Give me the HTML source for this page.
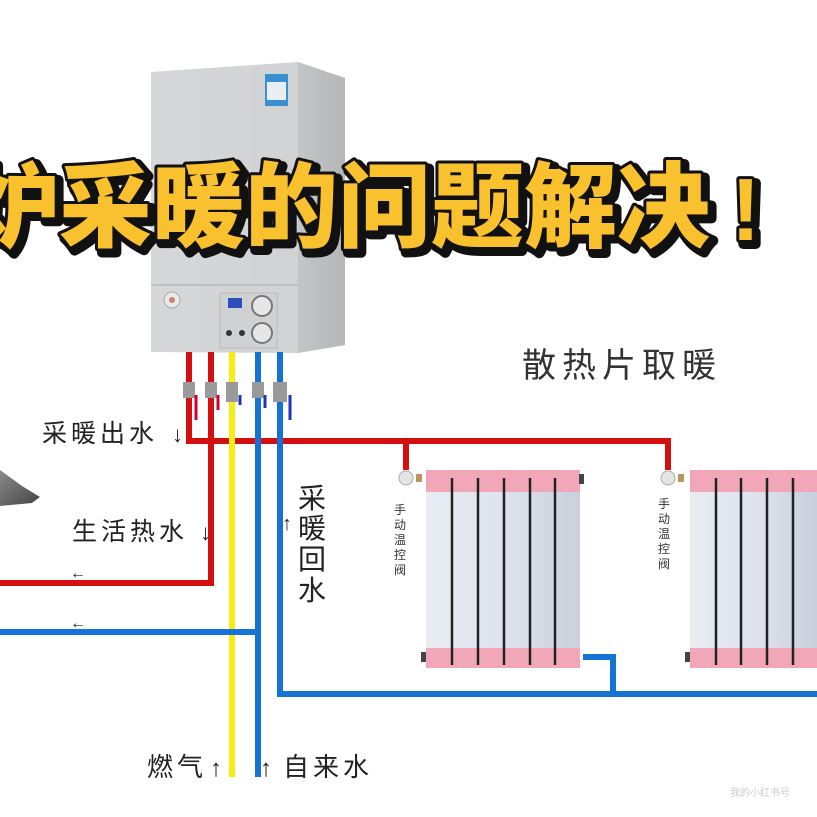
<!DOCTYPE html>
<html><head><meta charset="utf-8"><style>
html,body{margin:0;padding:0;background:#fff;}
svg{display:block;}
</style></head><body>
<svg width="817" height="817" viewBox="0 0 817 817" xmlns="http://www.w3.org/2000/svg">
<defs>
<linearGradient id="front" x1="0" x2="1"><stop offset="0" stop-color="#d6d7d9"/><stop offset="1" stop-color="#cfd0d2"/></linearGradient>
<linearGradient id="side" x1="0" x2="1"><stop offset="0" stop-color="#c4c5c7"/><stop offset="1" stop-color="#b5b6b8"/></linearGradient>
<linearGradient id="hood" x1="0" x2="1" y1="0" y2="1"><stop offset="0" stop-color="#8a8a8a"/><stop offset="1" stop-color="#444"/></linearGradient>
<linearGradient id="fin" x1="0" x2="1"><stop offset="0" stop-color="#e9ecf3"/><stop offset="0.5" stop-color="#dfe3ee"/><stop offset="1" stop-color="#c9cfdb"/></linearGradient>
</defs>
<polygon points="0,470 22,486 40,497 32,503 0,506" fill="url(#hood)"/>
<polygon points="151,72 298,62 345,78 345,345 298,353 151,352" fill="url(#front)"/>
<polygon points="298,62 345,78 345,345 298,353" fill="url(#side)"/>
<line x1="151" y1="285" x2="298" y2="285" stroke="#b8b9bb" stroke-width="1.5"/>
<rect x="265" y="74" width="23" height="32" fill="#3a8fd0"/>
<rect x="267" y="82" width="19" height="18" fill="#e8eef2"/>
<circle cx="172" cy="300" r="8" fill="#e9e9e9" stroke="#aaa"/>
<circle cx="172" cy="300" r="3" fill="#c86"/>
<rect x="220" y="293" width="57" height="55" fill="#d0d1d3" stroke="#bbb"/>
<rect x="228" y="298" width="14" height="10" fill="#2d4fbd"/>
<circle cx="262" cy="306" r="10" fill="#e6e6e6" stroke="#777" stroke-width="2"/>
<circle cx="262" cy="333" r="10" fill="#e6e6e6" stroke="#777" stroke-width="2"/>
<circle cx="229" cy="333" r="3" fill="#333"/><circle cx="242" cy="333" r="3" fill="#333"/>
<g fill="none" stroke-width="6" stroke-linejoin="miter">
<path d="M189,352 V441 H668 V470" stroke="#d40f0f"/>
<path d="M406,441 V470" stroke="#d40f0f"/>
<path d="M211,352 V583 H0" stroke="#d40f0f"/>
<path d="M232,352 V777" stroke="#f6ee12"/>
<path d="M258,352 V777" stroke="#1673d6"/>
<path d="M258,632 H0" stroke="#1673d6"/>
<path d="M280,352 V694 H817" stroke="#1673d6"/>
<path d="M583,657 H613 V694" stroke="#1673d6"/>
</g>
<g fill="#9a9a9a">
<rect x="183" y="382" width="12" height="16"/><rect x="205" y="382" width="12" height="16"/>
<rect x="226" y="382" width="12" height="20"/><rect x="252" y="382" width="12" height="16"/><rect x="273" y="382" width="14" height="20"/>
</g>
<g stroke-width="3" fill="none">
<path d="M196,395 V420" stroke="#c03"/><path d="M218,395 V410" stroke="#c03"/>
<path d="M240,395 V405" stroke="#2233bb"/><path d="M265,395 V408" stroke="#2233bb"/><path d="M290,395 V420" stroke="#2233bb"/>
</g>
<circle cx="406" cy="478" r="7" fill="#e4e4e4" stroke="#aaa"/>
<rect x="416" y="474" width="6" height="8" fill="#b9975b"/>
<g>
<rect x="426" y="470" width="154" height="198" fill="url(#fin)"/>
<rect x="426" y="470" width="154" height="22" fill="#f2a7b8"/>
<rect x="426" y="648" width="154" height="20" fill="#f2a7b8"/>
<g stroke="#222" stroke-width="2.5"><line x1="452" y1="478" x2="452" y2="665"/><line x1="478" y1="478" x2="478" y2="665"/><line x1="504" y1="478" x2="504" y2="665"/><line x1="530" y1="478" x2="530" y2="665"/><line x1="555" y1="478" x2="555" y2="665"/></g>
<rect x="579" y="474" width="5" height="10" fill="#444"/><rect x="421" y="652" width="5" height="10" fill="#444"/>
</g>
<g>
<circle cx="668" cy="478" r="7" fill="#e4e4e4" stroke="#aaa"/>
<rect x="678" y="474" width="6" height="8" fill="#b9975b"/>
<rect x="690" y="470" width="127" height="198" fill="url(#fin)"/>
<rect x="690" y="470" width="127" height="22" fill="#f2a7b8"/>
<rect x="690" y="648" width="127" height="20" fill="#f2a7b8"/>
<g stroke="#222" stroke-width="2.5"><line x1="716" y1="478" x2="716" y2="665"/><line x1="741" y1="478" x2="741" y2="665"/><line x1="767" y1="478" x2="767" y2="665"/><line x1="793" y1="478" x2="793" y2="665"/></g>
<rect x="685" y="652" width="5" height="10" fill="#444"/>
</g>
<g font-family="'Liberation Sans','Noto Sans CJK SC',sans-serif" fill="#222">
<text x="42" y="442" font-size="25" letter-spacing="4">采暖出水</text>
<text x="172" y="442" font-size="22">↓</text>
<text x="72" y="540" font-size="25" letter-spacing="4">生活热水</text>
<text x="200" y="540" font-size="22">↓</text>
<text x="70" y="578" font-size="16">←</text>
<text x="70" y="628" font-size="16">←</text>
<text x="282" y="530" font-size="20">↑</text>
<g font-size="28"><text x="298" y="508">采</text><text x="298" y="538">暖</text><text x="298" y="569">回</text><text x="298" y="600">水</text></g>
<text x="522" y="377" font-size="34" letter-spacing="6" fill="#333">散热片取暖</text>
<text x="147" y="776" font-size="26" letter-spacing="4">燃气</text>
<text x="210" y="776" font-size="24">↑</text>
<text x="260" y="776" font-size="24">↑</text>
<text x="283" y="776" font-size="26" letter-spacing="4">自来水</text>
<g font-size="12" fill="#333"><text x="394" y="514">手</text><text x="394" y="529">动</text><text x="394" y="544">温</text><text x="394" y="559">控</text><text x="394" y="574">阀</text></g>
<g font-size="12" fill="#333"><text x="658" y="508">手</text><text x="658" y="523">动</text><text x="658" y="538">温</text><text x="658" y="553">控</text><text x="658" y="568">阀</text></g>
<text x="730" y="796" font-size="10" fill="#ccc">我的小红书号</text>
</g>
<g font-family="'Noto Sans CJK SC',sans-serif" font-weight="900" font-size="93">
<text x="-30" y="244" fill="#111" stroke="#111" stroke-width="10" stroke-linejoin="round">炉采暖的问题解决</text>
<text x="735" y="244" fill="#111" stroke="#111" stroke-width="10" stroke-linejoin="round" font-family="'Liberation Sans',sans-serif" font-weight="bold" font-size="88">!</text>
<text x="-34" y="240" fill="#f9c12e" stroke="#111" stroke-width="6" stroke-linejoin="round" paint-order="stroke">炉采暖的问题解决</text>
<text x="731" y="240" fill="#f9c12e" stroke="#111" stroke-width="6" stroke-linejoin="round" paint-order="stroke" font-family="'Liberation Sans',sans-serif" font-weight="bold" font-size="88">!</text>
</g>
</svg>
</body></html>
